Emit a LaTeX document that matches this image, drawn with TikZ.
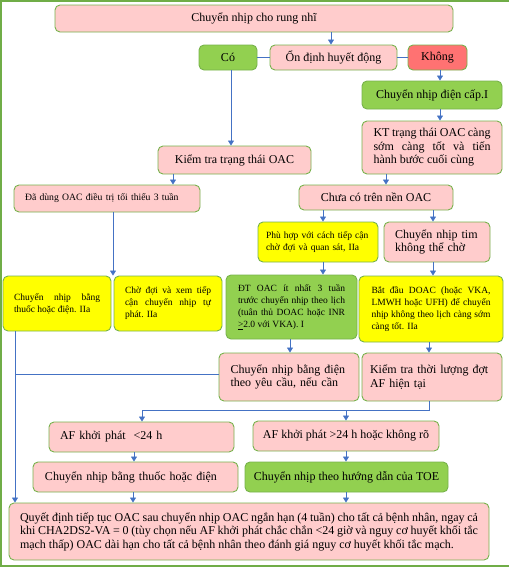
\documentclass[tikz,border=0pt]{standalone}
\usepackage{fontspec}
\setmainfont{Liberation Serif}
\usetikzlibrary{arrows.meta}
\definecolor{pinkf}{HTML}{FFCCCC}
\definecolor{greenf}{HTML}{92D050}
\definecolor{redf}{HTML}{FF7272}
\definecolor{yellowf}{HTML}{FFFF00}
\definecolor{bord}{HTML}{77B24C}
\definecolor{lineb}{HTML}{4472C4}
\definecolor{framec}{HTML}{70AD47}
\tikzset{
  box/.style={draw=bord, line width=0.9pt, rounded corners=5pt, inner sep=0pt, align=center,
    font=\fontsize{12}{13.5}\selectfont},
  small/.style={font=\fontsize{9.5}{12}\selectfont},
  arr/.style={draw=lineb, line width=0.8pt, -{Triangle[width=6pt,length=5pt]}},
  ln/.style={draw=lineb, line width=0.8pt},
  framel/.style={draw=framec, line width=2pt},
}
\begin{document}
\begin{tikzpicture}[x=1pt,y=-1pt]
\useasboundingbox (0,0) rectangle (509,568);
\draw[framel] (0,1) -- (509,1);
\draw[framel] (1,0) -- (1,567);
\draw[framel] (0,566) -- (509,566);

% nodes
\node[box, fill=pinkf, minimum width=398pt, minimum height=27pt] (title) at (254,18.5) {Chuyển nhịp cho rung nhĩ};
\node[box, fill=greenf, minimum width=58pt, minimum height=25pt] (co) at (228,57.5) {Có};
\node[box, fill=pinkf, minimum width=127pt, minimum height=25pt] (stab) at (333.5,57.5) {Ổn định huyết động};
\node[box, fill=redf, minimum width=59pt, minimum height=25pt] (khong) at (437.5,57.5) {Không};
\node[box, fill=greenf, minimum width=140pt, minimum height=28pt] (elec) at (432,95) {Chuyển nhịp điện cấp.I};
\node[box, fill=pinkf, minimum width=140pt, minimum height=53pt, text width=117pt, align=justify] (kt) at (432,147.5)
  {\noindent KT trạng thái OAC càng\linebreak sớm càng tốt và tiến\linebreak hành bước cuối cùng};
\node[box, fill=pinkf, minimum width=153pt, minimum height=28pt] (ktoac) at (234.5,160) {Kiểm tra trạng thái OAC};
\node[box, fill=pinkf, minimum width=186pt, minimum height=27pt, text width=164pt, align=left,
  font=\fontsize{9.7}{12}\selectfont] (dadung) at (107,198.5) {Đã dùng OAC điều trị tối thiểu 3 tuần};
\node[box, fill=pinkf, minimum width=154pt, minimum height=25pt] (chuaco) at (376,197.5) {Chưa có trên nền OAC};
\node[box, small, fill=yellowf, minimum width=120pt, minimum height=40pt, text width=104pt, align=left] (phuhop) at (318,242)
  {Phù hợp với cách tiếp cận\\chờ đợi và quan sát, IIa};
\node[box, fill=pinkf, minimum width=106pt, minimum height=40pt, text width=84pt, align=left,
  font=\fontsize{12}{13}\selectfont] (khongcho) at (437,242) {Chuyển nhịp tim\\không thể chờ};
\node[box, small, fill=yellowf, minimum width=108pt, minimum height=55pt, text width=86pt, align=justify] (ya) at (57,303.5)
  {\noindent Chuyển nhịp bằng\linebreak thuốc hoặc điện. IIa};
\node[box, small, fill=yellowf, minimum width=108pt, minimum height=55pt, text width=86pt, align=justify] (yb) at (168,303.5)
  {\noindent Chờ đợi và xem tiếp\linebreak cận chuyển nhịp tự\linebreak phát. IIa};
\node[box, small, fill=greenf, minimum width=131pt, minimum height=64pt, text width=107pt, align=justify] (dtoac) at (291.5,307)
  {\noindent ĐT OAC ít nhất 3 tuần\linebreak trước chuyển nhịp theo lịch\linebreak (tuân thủ DOAC hoặc INR\linebreak \underline{>}2.0 với VKA). I};
\node[box, small, fill=yellowf, minimum width=144pt, minimum height=66pt, text width=119pt, align=justify] (batdau) at (431,309)
  {\noindent Bắt đầu DOAC (hoặc VKA,\linebreak LMWH hoặc UFH) để chuyển\linebreak nhịp không theo lịch càng sớm\linebreak càng tốt. IIa};
\node[box, fill=pinkf, minimum width=140pt, minimum height=48pt, text width=117pt, align=left] (dien) at (289,377)
  {Chuyển nhịp bằng điện\\theo yêu cầu, nếu cần};
\node[box, fill=pinkf, minimum width=140pt, minimum height=48pt, text width=124pt, align=left] (thoiluong) at (432,377)
  {Kiểm tra thời lượng đợt\\AF hiện tại};
\node[box, fill=pinkf, minimum width=185pt, minimum height=30pt, text width=163pt, align=left] (afa) at (141.5,437)
  {AF khởi phát\ \ <24 h};
\node[box, fill=pinkf, minimum width=186pt, minimum height=30pt] (afb) at (346,436)
  {AF khởi phát >24 h hoặc không rõ};
\node[box, fill=pinkf, minimum width=205pt, minimum height=30pt, text width=181pt, align=left] (thuoc) at (135.5,477)
  {Chuyển nhịp bằng thuốc hoặc điện};
\node[box, fill=greenf, minimum width=203pt, minimum height=30pt] (toe) at (346.5,477)
  {Chuyển nhịp theo hướng dẫn của TOE};
\node[box, fill=pinkf, minimum width=480pt, minimum height=57pt, text width=458pt, align=justify,
  font=\fontsize{12}{13.5}\selectfont] (final) at (249,531.5)
  {\noindent Quyết định tiếp tục OAC sau chuyển nhịp OAC ngắn hạn (4 tuần) cho tất cả bệnh nhân, ngay cả\linebreak khi CHA2DS2-VA = 0 (tùy chọn nếu AF khởi phát chắc chắn <24 giờ và nguy cơ huyết khối tắc\linebreak mạch thấp) OAC dài hạn cho tất cả bệnh nhân theo đánh giá nguy cơ huyết khối tắc mạch.};

% x positions of connectors
\coordinate (x331) at (331,0);
\coordinate (x440) at (440,0);
\coordinate (x231) at (231,0);
\coordinate (x173) at (173,0);
\coordinate (x386) at (386,0);
\coordinate (x113) at (113,0);
\coordinate (x323) at (323,0);
\coordinate (x433) at (433,0);
\coordinate (x290) at (290,0);
\coordinate (x429) at (429,0);
\coordinate (x346) at (346,0);
\coordinate (x134) at (134,0);
\coordinate (x133) at (133,0);
\coordinate (x15) at (15,0);
\coordinate (jl) at (142,410);

% connectors
\draw[arr] (title.south -| x331) -- (stab.north -| x331);
\draw[ln] (co.east) -- (stab.west);
\draw[ln] (stab.east) -- (khong.west);
\draw[arr] (khong.south -| x440) -- (elec.north -| x440);
\draw[arr] (elec.south -| x440) -- (kt.north -| x440);
\draw[arr] (co.south -| x231) -- (ktoac.north -| x231);
\draw[arr] (ktoac.south -| x173) -- (dadung.north -| x173);
\draw[arr] (kt.south -| x386) -- (chuaco.north -| x386);
\draw[arr] (dadung.south -| x113) -- (ya.north -| x113);
\draw[arr] (chuaco.south -| x323) -- (phuhop.north -| x323);
\draw[arr] (chuaco.south -| x433) -- (khongcho.north -| x433);
\draw[arr] (phuhop.south -| x323) -- (dtoac.north -| x323);
\draw[arr] (khongcho.south -| x433) -- (batdau.north -| x433);
\draw[arr] (dtoac.south -| x290) -- (dien.north -| x290);
\draw[arr] (batdau.south -| x429) -- (thoiluong.north -| x429);
\draw[ln] (thoiluong.south -| x429) |- (jl);
\draw[arr] (jl) -- (afa.north -| jl);
\draw[arr] (jl -| x346) -- (afb.north -| x346);
\draw[arr] (afa.south -| x134) -- (thuoc.north -| x134);
\draw[arr] (afb.south -| x346) -- (toe.north -| x346);
\draw[arr] (thuoc.south -| x133) -- (final.north -| x133);
\draw[arr] (toe.south -| x346) -- (final.north -| x346);
\draw[arr] (ya.south -| x15) -- (final.north -| x15);
\draw[ln] ([yshift=3pt]dien.west) -- ([yshift=3pt]dien.west -| x15);
\end{tikzpicture}
\end{document}
